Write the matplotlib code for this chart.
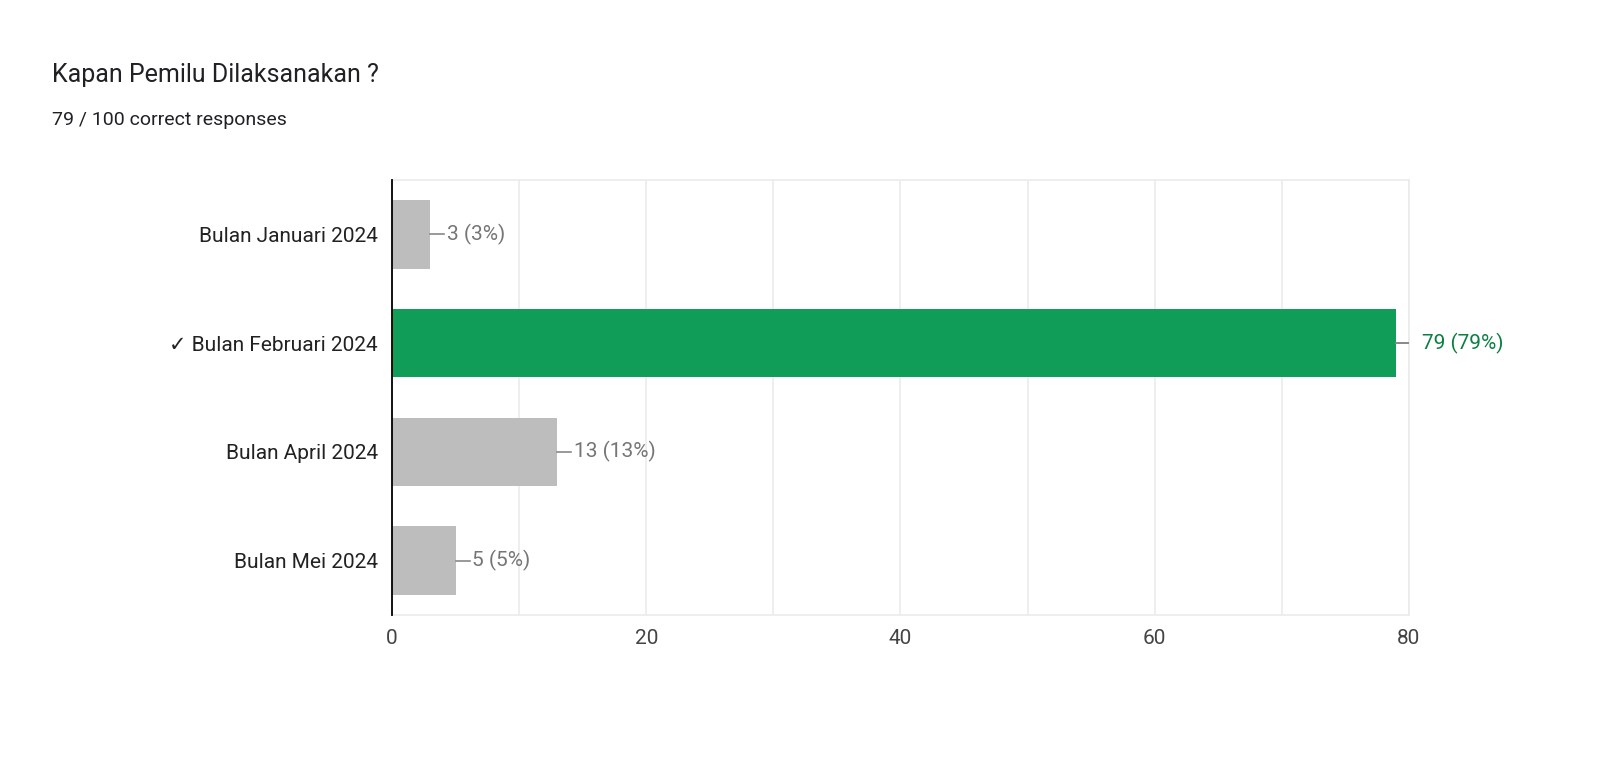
import matplotlib
matplotlib.use("Agg")
import matplotlib.pyplot as plt

categories = ["Bulan Januari 2024", "✓ Bulan Februari 2024", "Bulan April 2024", "Bulan Mei 2024"]
values = [3, 79, 13, 5]
percents = [3, 79, 13, 5]
correct = [False, True, False, False]

plt.rcParams['font.family'] = ['Roboto', 'DejaVu Sans']
fig = plt.figure(figsize=(16, 7.59), dpi=100)
ax = fig.add_axes([0.245, 0.1897, 0.6356, 0.573])

green = "#0f9d58"
grey = "#bdbdbd"
ys = list(range(len(categories)))
ax.barh(ys, values, height=0.63, color=[green if c else grey for c in correct], zorder=3)
for y, v, p, c in zip(ys, values, percents, correct):
    col = "#0b8043" if c else "#757575"
    ax.plot([v, v + 1.1], [y, y], color="#888888", lw=1.2, zorder=3)
    ax.text(v + 1.3 if not c else v + 2.0, y, f"{v} ({p}%)", va="center", ha="left", fontsize=15, color=col)
    if c:
        ax.plot([v, v + 1.6], [y, y], color="#888888", lw=1.2, zorder=3)

ax.set_xlim(0, 80)
ax.set_ylim(3.5, -0.5)
ax.set_yticks(ys)
ax.set_yticklabels(categories, fontsize=15, color="#222222")
ax.set_xticks([0, 20, 40, 60, 80])
ax.set_xticklabels(["0", "20", "40", "60", "80"], fontsize=15, color="#444444")
ax.set_xticks(range(0, 81, 10), minor=True)
ax.grid(axis="x", which="both", color="#ebebeb", lw=1.2, zorder=0)
ax.tick_params(length=0, which="both", pad=10)
for s in ["top", "right", "bottom"]:
    ax.spines[s].set_color("#ebebeb")
    ax.spines[s].set_linewidth(1.2)
ax.spines["left"].set_color("#000000")
ax.spines["left"].set_linewidth(1.3)
ax.spines["left"].set_zorder(4)

fig.text(52 / 1600, 1 - 75 / 759, "Kapan Pemilu Dilaksanakan ?", fontsize=18, color="#202124", va="center")
fig.text(52 / 1600, 1 - 120 / 759, "79 / 100 correct responses", fontsize=14, color="#202124", va="center")

fig.savefig("out.png", dpi=100, facecolor="white")
